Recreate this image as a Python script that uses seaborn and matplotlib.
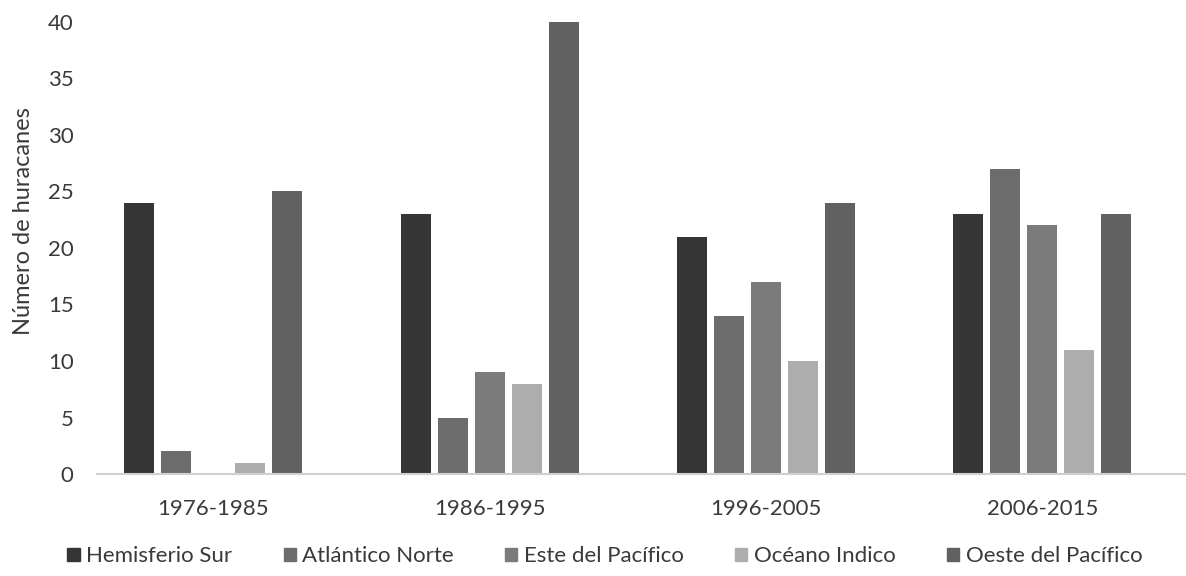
import matplotlib
matplotlib.use("Agg")
import matplotlib.pyplot as plt
import seaborn as sns
import pandas as pd

# Hurricane counts per decade and basin
periods = ["1976-1985", "1986-1995", "1996-2005", "2006-2015"]
hemisferio_sur = [24, 23, 21, 23]
atlantico_norte = [2, 5, 14, 27]
este_pacifico = [0, 9, 17, 22]
oceano_indico = [1, 8, 10, 11]
oeste_pacifico = [25, 40, 24, 23]

series_names = ["Hemisferio Sur", "Atlántico Norte", "Este del Pacífico",
                "Océano Indico", "Oeste del Pacífico"]
series_values = [hemisferio_sur, atlantico_norte, este_pacifico,
                 oceano_indico, oeste_pacifico]
series_colors = ["#353535", "#6c6c6c", "#7b7b7b", "#adadad", "#616161"]

rows = []
for name, vals in zip(series_names, series_values):
    for p, v in zip(periods, vals):
        rows.append({"periodo": p, "serie": name, "valor": v})
df = pd.DataFrame(rows)

sns.set_theme(style="white")
plt.rcParams["font.family"] = ["Lato", "DejaVu Sans"]

text_color = "#3a3a3a"

fig = plt.figure(figsize=(11.86, 5.76), dpi=100)
ax = fig.add_axes([0.082, 0.177, 0.918, 0.785])

sns.barplot(data=df, x="periodo", y="valor", hue="serie",
            order=periods, hue_order=series_names,
            palette=series_colors, width=0.67, gap=0.19,
            edgecolor="none", saturation=1, ax=ax, legend=False)

ax.set_ylim(0, 40)
ax.set_xlim(-0.42, 3.52)
ax.set_yticks(range(0, 41, 5))
ax.set_xlabel("")
ax.set_ylabel("Número de huracanes", fontsize=17, color=text_color)
ax.yaxis.set_label_coords(-0.058, 0.56)
ax.tick_params(axis="both", length=0, labelsize=16, colors=text_color)
ax.tick_params(axis="x", pad=18)
ax.tick_params(axis="y", pad=17)
for lbl in ax.get_yticklabels():
    lbl.set_horizontalalignment("right")

for side in ["top", "right", "left"]:
    ax.spines[side].set_visible(False)
ax.spines["bottom"].set_color("#d0d0d0")
ax.spines["bottom"].set_linewidth(1.5)

handles = [plt.Rectangle((0, 0), 1, 1, color=c) for c in series_colors]
fig.legend(handles, series_names, loc="center", bbox_to_anchor=(0.51, 0.034),
           ncol=5, frameon=False, fontsize=16, handlelength=0.55,
           handleheight=0.55, handletextpad=0.3, columnspacing=2.3,
           labelcolor=text_color)

fig.savefig("out.png", dpi=100, facecolor="white")
